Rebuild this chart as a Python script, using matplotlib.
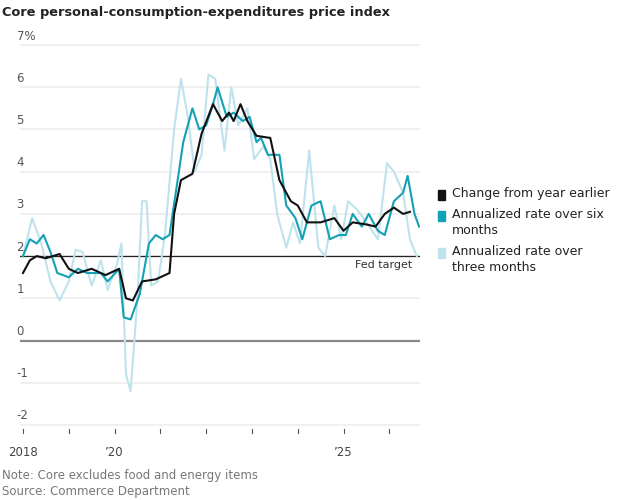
import matplotlib.pyplot as plt

# data: (decimal year, percent)
yoy_t = [2018.0, 2018.15, 2018.3, 2018.5, 2018.8, 2019.0, 2019.2, 2019.5, 2019.8, 2020.1, 2020.25, 2020.4, 2020.6,
         2020.9, 2021.2, 2021.3, 2021.45, 2021.7, 2021.9, 2022.15, 2022.35, 2022.5, 2022.6, 2022.75, 2022.9, 2023.1,
         2023.4, 2023.6, 2023.85, 2024.0, 2024.2, 2024.5, 2024.8, 2025.0, 2025.2, 2025.5, 2025.7, 2025.9, 2026.1,
         2026.3, 2026.45]
yoy_v = [1.6, 1.9, 2.0, 1.95, 2.05, 1.7, 1.6, 1.7, 1.55, 1.7, 1.0, 0.95, 1.4,
         1.45, 1.6, 3.0, 3.8, 3.95, 4.9, 5.6, 5.2, 5.4, 5.2, 5.6, 5.2, 4.85,
         4.8, 3.8, 3.3, 3.2, 2.8, 2.8, 2.9, 2.6, 2.8, 2.75, 2.7, 3.0, 3.15,
         3.0, 3.05]

six_t = [2018.0, 2018.15, 2018.3, 2018.45, 2018.6, 2018.75, 2019.0, 2019.2, 2019.4, 2019.7, 2019.85, 2020.1, 2020.2,
         2020.35, 2020.55, 2020.75, 2020.9, 2021.05, 2021.2, 2021.35, 2021.5, 2021.7, 2021.85, 2022.0, 2022.15, 2022.25,
         2022.45, 2022.6, 2022.8, 2022.95, 2023.1, 2023.2, 2023.35, 2023.6, 2023.75, 2023.95, 2024.1, 2024.3, 2024.5,
         2024.7, 2024.9, 2025.05, 2025.2, 2025.4, 2025.55, 2025.75, 2025.9, 2026.1, 2026.3, 2026.4, 2026.55, 2026.65]
six_v = [2.0, 2.4, 2.3, 2.5, 2.1, 1.6, 1.5, 1.7, 1.6, 1.6, 1.4, 1.7, 0.55,
         0.5, 1.1, 2.3, 2.5, 2.4, 2.5, 3.6, 4.7, 5.5, 5.0, 5.1, 5.6, 6.0,
         5.3, 5.4, 5.2, 5.3, 4.7, 4.8, 4.4, 4.4, 3.2, 2.9, 2.4, 3.2, 3.3,
         2.4, 2.5, 2.5, 3.0, 2.7, 3.0, 2.6, 2.5, 3.3, 3.5, 3.9, 3.0, 2.7]

three_t = [2018.0, 2018.2, 2018.4, 2018.6, 2018.8, 2019.0, 2019.15, 2019.3, 2019.5, 2019.7, 2019.85, 2020.05, 2020.15,
           2020.25, 2020.35, 2020.5, 2020.6, 2020.7, 2020.8, 2020.95, 2021.1, 2021.3, 2021.45, 2021.6, 2021.75, 2021.9,
           2022.05, 2022.2, 2022.4, 2022.55, 2022.7, 2022.9, 2023.05, 2023.25, 2023.4, 2023.55, 2023.75, 2023.9, 2024.05,
           2024.25, 2024.45, 2024.6, 2024.8, 2024.95, 2025.1, 2025.3, 2025.5, 2025.75, 2025.95, 2026.1, 2026.3, 2026.45,
           2026.6]
three_v = [2.0, 2.9, 2.3, 1.4, 0.95, 1.4, 2.15, 2.1, 1.3, 1.9, 1.2, 1.8, 2.3,
           -0.8, -1.2, 1.0, 3.3, 3.3, 1.3, 1.4, 2.5, 5.0, 6.2, 5.3, 4.0, 4.4,
           6.3, 6.2, 4.5, 6.0, 5.1, 5.5, 4.3, 4.6, 4.3, 3.0, 2.2, 2.8, 2.3,
           4.5, 2.2, 2.0, 3.2, 2.4, 3.3, 3.1, 2.8, 2.4, 4.2, 4.0, 3.5, 2.4,
           2.0]

fed_target = 2.0
y_ticks = [-2, -1, 0, 1, 2, 3, 4, 5, 6, 7]
y_labels = ['-2', '-1', '0', '1', '2', '3', '4', '5', '6', '7%']

fig = plt.figure(figsize=(6.2, 5.0), dpi=100)
ax = fig.add_axes([20 / 620, 1 - 433 / 500, 400 / 620, 393 / 500])
xmin, xmax = 2017.935, 2026.67
ax.set_xlim(xmin, xmax)
ax.set_ylim(-2.19, 7.12)

for v in y_ticks:
    if v == 0:
        ax.axhline(0, color='#888888', lw=1.6, zorder=1)
    else:
        ax.axhline(v, color='#eeeeee', lw=1.2, zorder=0)
ax.axhline(fed_target, color='#222222', lw=0.9, zorder=2)
ax.text(2026.5, 1.92, 'Fed target', ha='right', va='top', fontsize=8, color='#333333')

ax.plot(three_t, three_v, color='#bfe3ec', lw=1.5, zorder=3)
ax.plot(six_t, six_v, color='#14a0b5', lw=1.5, zorder=4)
ax.plot(yoy_t, yoy_v, color='#111111', lw=1.5, zorder=5)

for s in ax.spines.values():
    s.set_visible(False)
ax.set_yticks([])
ax.set_xticks([])
for v, lab in zip(y_ticks, y_labels):
    ax.text(2017.86, v + 0.06, lab, ha='left', va='bottom', fontsize=8.5, color='#555555',
            transform=ax.transData, clip_on=False)

for yr in range(2018, 2027):
    ax.plot([yr, yr], [-2.19, -2.1], color='#555555', lw=0.8, clip_on=False)
for yr, lab in [(2018, '2018'), (2020, '\u201920'), (2025, '\u201925')]:
    ax.text(yr, -2.5, lab, ha='center', va='top', fontsize=8.5, color='#444444')

fig.text(0.003, 0.975, 'Core personal-consumption-expenditures price index', fontsize=9.3,
         fontweight='bold', color='#222222', va='center')
fig.text(0.003, 1 - 475 / 500, 'Note: Core excludes food and energy items', fontsize=8.5,
         color='#777777', va='center')
fig.text(0.003, 1 - 492 / 500, 'Source: Commerce Department', fontsize=8.5, color='#777777', va='center')

legend = [('#111111', 'Change from year earlier', 187),
          ('#14a0b5', 'Annualized rate over six\nmonths', 208),
          ('#bfe3ec', 'Annualized rate over\nthree months', 245)]
for col, lab, ypix in legend:
    fig.patches.append(plt.Rectangle((438 / 620, 1 - (ypix + 13) / 500), 7 / 620, 10 / 500,
                                     color=col, transform=fig.transFigure))
    fig.text(452 / 620, 1 - ypix / 500, lab, fontsize=9, color='#222222', va='top', linespacing=1.3)

fig.savefig('out.png', dpi=100)
